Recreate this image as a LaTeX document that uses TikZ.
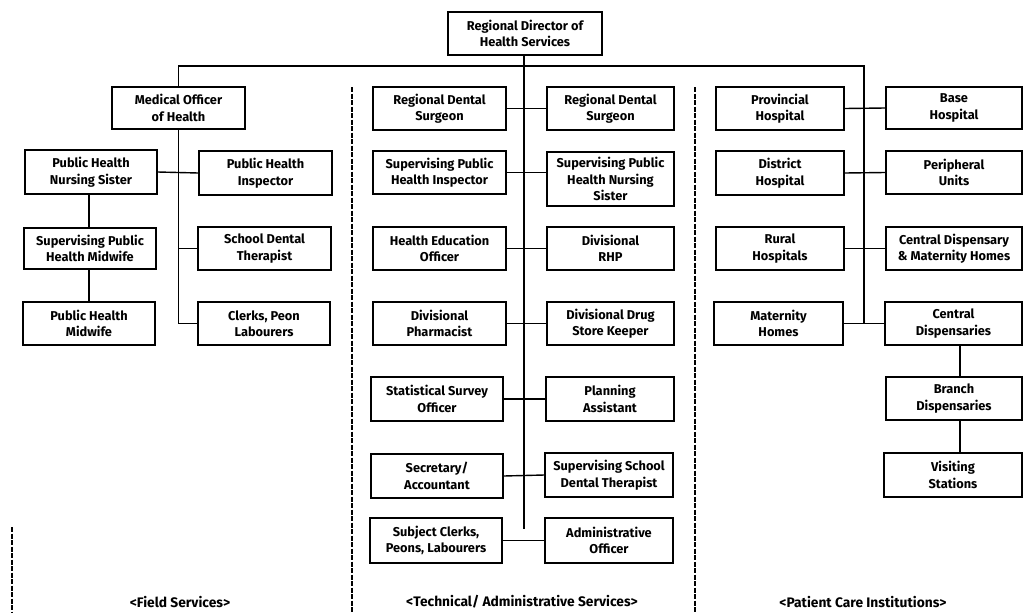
\documentclass[tikz,border=0pt]{standalone}
\usepackage{fontspec}
\setmainfont{Fira Sans}
% \orgbox{name}{x1}{y1}{x2}{y2}{text}: a framed post given by its corners
\newcommand{\orgbox}[6]{%
  \node[box, minimum width={(#4-#2)*1pt}, minimum height={(#5-#3)*1pt}]
    (#1) at ({(#2+#4)/2},{(#3+#5)/2}) {#6};}
\begin{document}
\begin{tikzpicture}[x=1pt,y=-1pt,
  box/.style={draw, line width=1.5pt, align=center, inner sep=0pt,
    font=\bfseries\fontsize{12.8}{16.5}\selectfont},
  link/.style={line width=1.4pt},
  divider/.style={line width=1.4pt, dash pattern=on 5pt off 1.5pt},
  caption/.style={font=\bfseries\fontsize{13.8}{15}\selectfont}]
\useasboundingbox (0,0) rectangle (1033,613);

% head of the region
\orgbox{rdhs}{448}{12}{602}{55}{Regional Director of\\Health Services}

% field services
\orgbox{moh}{112}{87}{245}{129}{Medical Officer\\of Health}
\orgbox{phns}{25}{150}{157}{194}{Public Health\\Nursing Sister}
\orgbox{sphm}{24}{228}{156}{269}{Supervising Public\\Health Midwife}
\orgbox{phm}{23}{302}{155}{345}{Public Health\\Midwife}
\orgbox{phi}{199}{151}{332}{195}{Public Health\\Inspector}
\orgbox{sdt}{198}{227}{331}{270}{School Dental\\Therapist}
\orgbox{clerks}{198}{302}{330}{345}{Clerks, Peon\\Labourers}

% technical / administrative services
\orgbox{rdsA}{373}{87}{506}{130}{Regional Dental\\Surgeon}
\orgbox{sphi}{373}{151}{506}{194}{Supervising Public\\Health Inspector}
\orgbox{heo}{373}{227}{506}{270}{Health Education\\Officer}
\orgbox{dph}{373}{302}{506}{345}{Divisional\\Pharmacist}
\orgbox{sso}{371}{377}{503}{421}{Statistical Survey\\Officer}
\orgbox{sec}{371}{454}{503}{498}{Secretary/\\Accountant}
\orgbox{subj}{370}{518}{502}{563}{Subject Clerks,\\Peons, Labourers}

\orgbox{rdsB}{547}{87}{674}{130}{Regional Dental\\Surgeon}
\orgbox{sphns}{547}{152}{674}{206}{Supervising Public\\Health Nursing\\Sister}
\orgbox{rhp}{547}{227}{674}{270}{Divisional\\RHP}
\orgbox{dsk}{547}{302}{674}{345}{Divisional Drug\\Store Keeper}
\orgbox{pa}{546}{377}{674}{421}{Planning\\Assistant}
\orgbox{ssdt}{545}{453}{673}{497}{Supervising School\\Dental Therapist}
\orgbox{ao}{545}{518}{673}{563}{Administrative\\Officer}

% patient care institutions
\orgbox{prov}{716}{87}{844}{130}{Provincial\\Hospital}
\orgbox{dist}{716}{151}{844}{195}{District\\Hospital}
\orgbox{rural}{716}{227}{844}{270}{Rural\\Hospitals}
\orgbox{mh}{714}{302}{843}{345}{Maternity\\Homes}
\orgbox{base}{886}{87}{1022}{129}{Base\\Hospital}
\orgbox{peri}{886}{151}{1022}{194}{Peripheral\\Units}
\orgbox{cdmh}{886}{227}{1022}{270}{Central Dispensary\\\& Maternity Homes}
\orgbox{cds}{885}{302}{1022}{345}{Central\\Dispensaries}
\orgbox{bd}{886}{377}{1022}{420}{Branch\\Dispensaries}
\orgbox{vs}{884}{453}{1022}{497}{Visiting\\Stations}

% trunk lines
\coordinate (barR) at (864,66);
\coordinate (trunkEnd) at (524,529);
\coordinate (dispLine) at (960,0);
\coordinate (sisterLine) at (89,0);
\draw[link] (moh.north) |- (barR) -- (barR |- mh.east);
\draw[link] (rdhs.south -| trunkEnd) -- (trunkEnd);

% field services links
\draw[link] (moh.south) -- (moh.south |- clerks.west) -- (clerks.west);
\draw[link] (moh.south |- sdt.west) -- (sdt.west);
\draw[link] (phns.east) -- (phi.west);
\draw[link] (phns.south -| sisterLine) -- (sphm.north -| sisterLine);
\draw[link] (sphm.south -| sisterLine) -- (phm.north -| sisterLine);

% technical / administrative links
\draw[link] (rdsA.east) -- (rdsB.west);
\draw[link] (sphi.east) -- (sphi.east -| sphns.west);
\draw[link] (heo.east) -- (rhp.west);
\draw[link] (dph.east) -- (dsk.west);
\draw[link] (sso.east) -- (pa.west);
\draw[link] (sec.east) -- (ssdt.west);
\draw[link] (subj.east) -- (ao.west);

% patient care links
\draw[link] (prov.east) -- (base.west);
\draw[link] (dist.east) -- (peri.west);
\draw[link] (rural.east) -- (cdmh.west);
\draw[link] (mh.east) -- (cds.west);
\draw[link] (cds.south -| dispLine) -- (bd.north -| dispLine);
\draw[link] (bd.south -| dispLine) -- (vs.north -| dispLine);

% dividers between the three services
\draw[divider] (352,87) -- (352,613);
\draw[divider] (695,87) -- (695,613);
\draw[divider] (12,527) -- (12,613);

% captions
\node[caption] (capF) at (180,602) {<Field Services>};
\node[caption] (capT) at (522,602) {<Technical/ Administrative Services>};
\node[caption] (capP) at (863,602) {<Patient Care Institutions>};
\end{tikzpicture}
\end{document}
